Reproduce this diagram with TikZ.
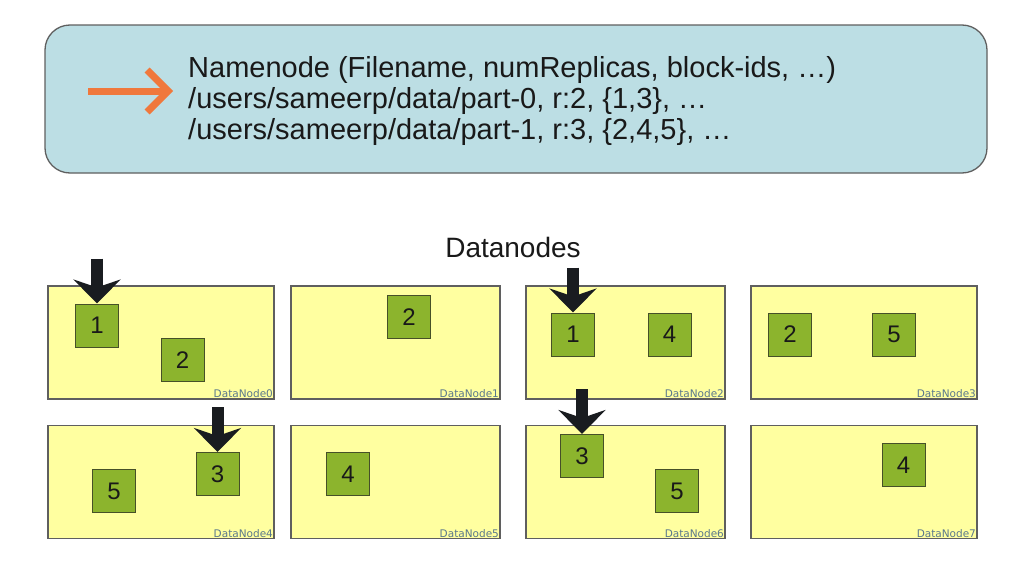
\documentclass[tikz,border=0pt]{standalone}
\usepackage{fontspec}
\setmainfont{Liberation Sans}
\newfontfamily\dnfont{DejaVu Sans}
\usetikzlibrary{arrows.meta,positioning}
\definecolor{nncol}{RGB}{188,222,228}
\definecolor{dncol}{RGB}{255,255,160}
\definecolor{blkcol}{RGB}{140,180,45}
\definecolor{blkedge}{RGB}{70,80,40}
\definecolor{edgecol}{RGB}{95,95,95}
\definecolor{labcol}{RGB}{90,120,140}
\definecolor{ptrcol}{RGB}{240,120,60}
\definecolor{ptrblack}{RGB}{25,28,32}
\definecolor{txtcol}{RGB}{25,25,25}

\begin{document}
\begin{tikzpicture}[x=1pt,y=-1pt,
  dn/.style={draw=edgecol,line width=1.2pt,fill=dncol,inner sep=0pt},
  blk/.style={draw=blkedge,line width=1pt,fill=blkcol,minimum size=43pt,inner sep=0pt,text=txtcol,font=\fontsize{24}{24}\selectfont},
  dnlab/.style={anchor=south east,text=labcol,font=\dnfont\fontsize{10.5}{11}\selectfont,inner sep=1.5pt},
  ptr/.style={line width=12pt,draw=ptrblack,-{Stealth[length=24pt,width=47pt,inset=8pt]}},
  nnline/.style={anchor=base west,inner sep=0pt,text=txtcol,font=\fontsize{29}{31}\selectfont}]
  \useasboundingbox (0,0) rectangle (1018,570);
  % namenode table
  \node[draw=edgecol,line width=1.3pt,fill=nncol,rounded corners=25pt,
        minimum width=942pt,minimum height=148pt] (nn) at (516,99) {};
  \node[nnline] (nn1) at (188,77) {Namenode (Filename, numReplicas, block-ids, …)};
  \node[nnline] (nn2) at (188,108) {/users/sameerp/data/part-0, r:2, \{1,3\}, …};
  \node[nnline] (nn3) at (188,139) {/users/sameerp/data/part-1, r:3, \{2,4,5\}, …};
  \coordinate (p0) at (88,91);
  \coordinate (p1) at (173,91);
  \draw[ptrcol,line width=7pt,-{Straight Barb[length=21pt,width=42pt]}] (p0) -- (p1);
  % datanodes
  \node[anchor=base,text=txtcol,font=\fontsize{28}{28}\selectfont] (dtitle) at (513,257) {Datanodes};
  \foreach \n/\cx/\cy/\w in {0/161/342.5/226,1/395.5/342.5/209,2/625.5/342.5/199,3/864/342.5/226,
                             4/161/482/226,5/395.5/482/209,6/625.5/482/199,7/864/482/226}
    {\node[dn,minimum width=\w pt,minimum height=113pt] (dn\n) at (\cx,\cy) {};
     \node[dnlab] (lab\n) at (dn\n.south east) {DataNode\n};}
  % blocks
  \foreach \b/\x/\y/\t in {b0a/97/325.5/1,b0b/182.5/360/2,b1a/409/317/2,b2a/573/334.5/1,b2b/669.5/334.5/4,
                           b3a/790/334.5/2,b3b/894/334.5/5,b4a/114/491/5,b4b/217.5/474/3,b5a/348/474/4,
                           b6a/582/456/3,b6b/677/491/5,b7a/903.5/465/4}
    {\node[blk] (\b) at (\x,\y) {\t};}
  % read pointers
  \foreach \c/\b in {c0/b0a,c2/b2a,c4/b4b,c6/b6a}
    {\coordinate (\c) at ([yshift=45pt]\b.north);
     \draw[ptr] (\c) -- (\b.north);}
\end{tikzpicture}
\end{document}
